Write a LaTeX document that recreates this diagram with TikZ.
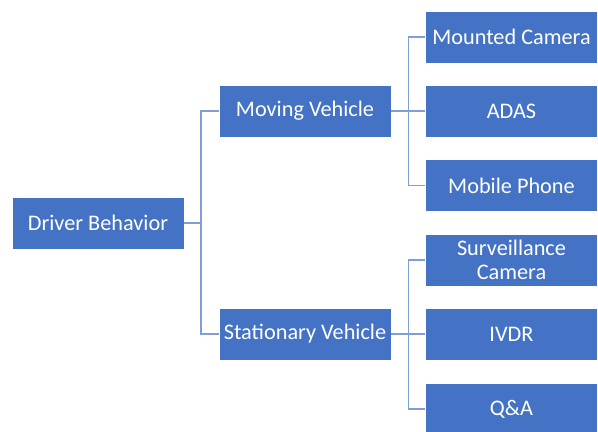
\documentclass[tikz,border=0pt]{standalone}
\usepackage{fontspec}
\setmainfont{Carlito}
\definecolor{boxblue}{HTML}{4472C4}
\definecolor{linkblue}{HTML}{7F9DD6}
\begin{document}
\begin{tikzpicture}[x=0.75pt,y=-0.75pt,
  box/.style={rectangle, fill=boxblue, draw=white, line width=0.6pt, inner sep=0pt,
    minimum width=129pt, minimum height=39pt, text=white, align=center,
    font=\fontsize{16.7}{18.3}\selectfont},
  link/.style={draw=linkblue, line width=0.8pt}]
\useasboundingbox (0,0) rectangle (598,431);
\begin{scope}
\clip (0,0) rectangle (598,431);
\node[box] (driver) at (98,223) {Driver Behavior};
\node[box] (moving) at (305,111) {Moving Vehicle};
\node[box] (stat) at (305,334) {Stationary Vehicle};
\node[box] (mc) at (511.5,37) {Mounted Camera};
\node[box] (adas) at (511.5,111) {ADAS};
\node[box] (mp) at (511.5,185.5) {Mobile Phone};
\node[box] (sc) at (511.5,260) {Surveillance\\Camera};
\node[box] (ivdr) at (511.5,334) {IVDR};
\node[box] (qa) at (511.5,409) {Q\&A};
\coordinate (j1) at (201,223);
\coordinate (j2) at (408.5,111);
\coordinate (j3) at (408.5,334);
\draw[link] (driver.east) -- (j1);
\draw[link] (moving.west) -| (j1);
\draw[link] (stat.west) -| (j1);
\draw[link] (moving.east) -- (j2);
\draw[link] (mc.west) -| (j2);
\draw[link] (adas.west) -- (j2);
\draw[link] (mp.west) -| (j2);
\draw[link] (stat.east) -- (j3);
\draw[link] (sc.west) -| (j3);
\draw[link] (ivdr.west) -- (j3);
\draw[link] (qa.west) -| (j3);
\end{scope}
\end{tikzpicture}
\end{document}
